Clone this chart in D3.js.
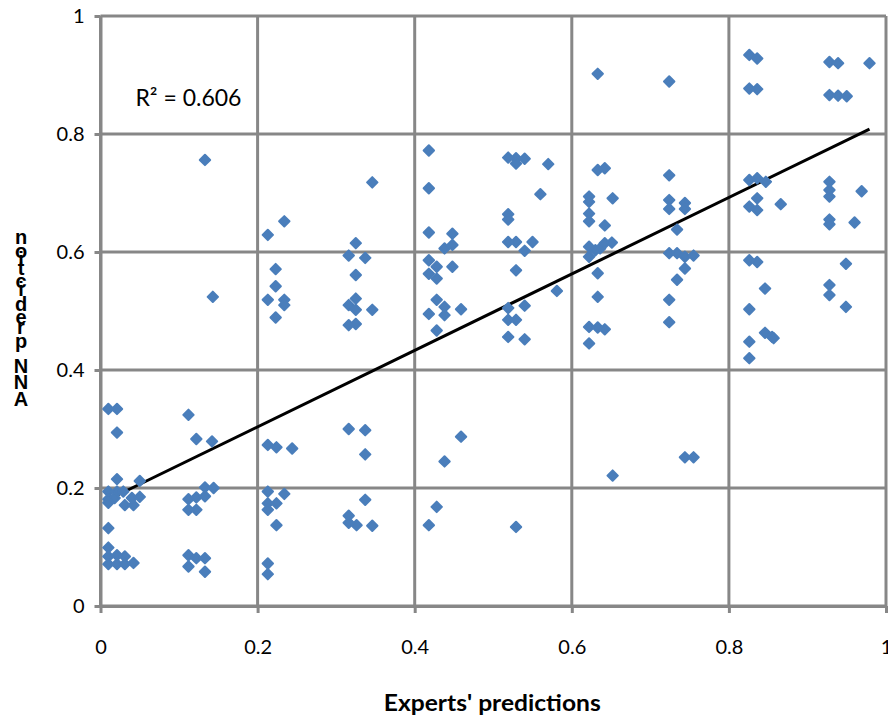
<!DOCTYPE html>
<html><head><meta charset="utf-8">
<script src="https://cdn.jsdelivr.net/npm/d3@7"></script>
<style>body{margin:0;background:#fff}svg{display:block}</style>
</head><body>
<svg id="chart" width="888" height="717"></svg>
<script>
// ---- data ----
const expertX = [
  0.010,0.021,0.021,0.021,0.050,
  0.010,0.021,0.029,0.010,0.018,0.031,0.042,0.040,0.050,0.010,
  0.010,0.010,0.010,0.021,0.031,0.010,0.021,0.031,0.042,
  0.112,0.122,0.142,0.133,0.143,
  0.112,0.122,0.133,0.133,0.144,0.112,0.122,
  0.112,0.122,0.133,0.112,0.133,
  0.213,0.234,0.223,0.223,0.213,0.234,0.234,0.223,
  0.213,0.224,0.244,
  0.213,0.234,0.213,0.224,0.213,0.224,
  0.213,0.213,
  0.325,0.316,0.337,0.325,0.316,0.325,0.325,0.346,0.316,0.325,0.346,
  0.316,0.337,0.337,0.337,
  0.316,0.316,0.326,0.346,
  0.418,0.418,0.418,0.448,0.438,0.448,0.418,0.428,0.448,0.418,0.428,0.428,0.438,0.418,0.438,0.459,0.428,
  0.459,0.438,0.428,0.418,
  0.519,0.529,0.529,0.540,0.570,0.560,0.519,0.519,
  0.519,0.529,0.550,0.540,0.529,0.581,
  0.519,0.540,0.519,0.529,0.519,0.540,
  0.529,
  0.633,0.633,0.642,0.622,0.622,0.652,0.622,0.622,0.642,
  0.622,0.630,0.636,0.642,0.651,0.622,0.633,0.633,0.622,0.633,0.642,0.622,
  0.652,
  0.724,0.724,0.724,0.724,0.744,0.744,0.734,0.724,0.734,0.744,0.755,0.744,0.734,0.724,0.724,
  0.744,0.755,
  0.826,0.836,0.826,0.836,0.826,0.836,0.847,0.836,0.826,0.836,0.866,
  0.826,0.836,0.846,0.826,0.846,0.855,0.857,0.826,0.826,
  0.928,0.939,0.979,0.928,0.939,0.950,0.928,0.928,0.928,0.969,0.928,0.928,0.960,0.949,0.928,0.928,0.949
];
const annY = [
  0.334,0.334,0.294,0.215,0.212,
  0.194,0.194,0.194,0.181,0.183,0.171,0.171,0.183,0.185,0.175,
  0.132,0.099,0.084,0.086,0.084,0.071,0.071,0.071,0.073,
  0.324,0.283,0.279,0.756,0.524,
  0.181,0.184,0.186,0.201,0.200,0.163,0.163,
  0.086,0.081,0.081,0.067,0.058,
  0.629,0.652,0.571,0.542,0.519,0.519,0.510,0.489,
  0.273,0.269,0.267,
  0.194,0.190,0.174,0.174,0.163,0.137,
  0.072,0.054,
  0.615,0.594,0.590,0.561,0.510,0.521,0.502,0.502,0.476,0.478,0.718,
  0.300,0.298,0.257,0.180,
  0.153,0.141,0.137,0.136,
  0.772,0.708,0.633,0.631,0.606,0.612,0.586,0.575,0.575,0.563,0.555,0.519,0.507,0.495,0.493,0.503,0.467,
  0.287,0.245,0.168,0.137,
  0.760,0.759,0.750,0.758,0.749,0.698,0.664,0.655,
  0.617,0.617,0.617,0.602,0.569,0.534,
  0.505,0.509,0.485,0.485,0.456,0.452,
  0.134,
  0.902,0.739,0.742,0.694,0.685,0.691,0.665,0.652,0.645,
  0.609,0.603,0.606,0.615,0.616,0.592,0.564,0.524,0.473,0.472,0.469,0.445,
  0.221,
  0.889,0.730,0.688,0.673,0.683,0.673,0.638,0.598,0.598,0.592,0.594,0.572,0.553,0.519,0.481,
  0.252,0.252,
  0.934,0.928,0.877,0.876,0.722,0.725,0.719,0.691,0.677,0.671,0.681,
  0.586,0.583,0.538,0.503,0.463,0.456,0.454,0.448,0.420,
  0.922,0.920,0.920,0.866,0.865,0.864,0.719,0.705,0.694,0.703,0.655,0.647,0.650,0.580,0.544,0.527,0.507
];
const xTickValues = [0, 0.2, 0.4, 0.6, 0.8, 1];
const yTickValues = [0, 0.2, 0.4, 0.6, 0.8, 1];
const trendSlope = 0.648;
const trendIntercept = 0.174;
const rSquaredText = "R² = 0.606";
const xTitle = "Experts' predictions";
const yTitle = "ANN prediction";

// ---- layout ----
const svg = d3.select("#chart");
const x = d3.scaleLinear().domain([0, 1]).range([100.5, 886]);
const y = d3.scaleLinear().domain([0, 1]).range([606, 16]);
const gridColor = "#878787";
const tickFont = "Lato, 'Open Sans', sans-serif";

// gridlines
svg.append("g").selectAll("line").data(xTickValues).join("line")
  .attr("x1", d => x(d)).attr("x2", d => x(d))
  .attr("y1", y(1)).attr("y2", y(0))
  .attr("stroke", gridColor).attr("stroke-width", 3);
svg.append("g").selectAll("line").data(yTickValues).join("line")
  .attr("y1", d => y(d)).attr("y2", d => y(d))
  .attr("x1", x(0)).attr("x2", x(1))
  .attr("stroke", gridColor).attr("stroke-width", 3);

// axes
const fmt = d => d3.format("~g")(d);
const xAxis = svg.append("g").attr("transform", `translate(0,${y(0)})`)
  .call(d3.axisBottom(x).tickValues(xTickValues).tickFormat(fmt).tickSizeInner(7).tickSizeOuter(0).tickPadding(27));
const yAxis = svg.append("g").attr("transform", `translate(${x(0)},0)`)
  .call(d3.axisLeft(y).tickValues(yTickValues).tickFormat(fmt).tickSizeInner(6).tickSizeOuter(0).tickPadding(10));
[xAxis, yAxis].forEach(g => {
  g.select(".domain").attr("stroke", gridColor).attr("stroke-width", 3);
  g.selectAll(".tick line").attr("stroke", gridColor).attr("stroke-width", 3);
  g.selectAll(".tick text").attr("fill", "#000").style("font-family", tickFont).style("font-size", "20px");
});

// trendline
const xr = d3.extent(expertX);
svg.append("line")
  .attr("x1", x(xr[0])).attr("y1", y(trendSlope * xr[0] + trendIntercept))
  .attr("x2", x(xr[1])).attr("y2", y(trendSlope * xr[1] + trendIntercept))
  .attr("stroke", "#000").attr("stroke-width", 3);

// points (diamonds)
const r = 5.2;
const diamond = `M0,${-r}L${r},0L0,${r}L${-r},0Z`;
svg.append("g").selectAll("path").data(expertX.map((v, i) => [v, annY[i]])).join("path")
  .attr("d", diamond)
  .attr("transform", d => `translate(${x(d[0])},${y(d[1])})`)
  .attr("fill", "#4A7EBB").attr("stroke", "#4A7EBB").attr("stroke-width", 2).attr("stroke-linejoin", "round");

// R² label
svg.append("text").attr("x", x(0.0445)).attr("y", y(0.8475))
  .style("font-family", tickFont).style("font-size", "23px").text(rSquaredText);

// x title
svg.append("text").attr("x", x(0.5) - 1).attr("y", 711).attr("text-anchor", "middle")
  .attr("textLength", 217).attr("lengthAdjust", "spacingAndGlyphs")
  .style("font-family", tickFont).style("font-size", "23px").style("font-weight", "bold").text(xTitle);

// y title: glyphs stacked upward, as in the reference
const yt = svg.append("g").style("font-family", "'Liberation Sans', Arial, sans-serif")
  .style("font-size", "20px").style("font-weight", "bold");
let base = 406;
yTitle.split("").forEach(ch => {
  const t = yt.append("text").attr("x", 21).attr("y", base).attr("text-anchor", "middle").text(ch === " " ? "\u00a0" : ch);
  const w = t.node().getComputedTextLength();
  base -= w + 2.2;
});
</script>
</body></html>
